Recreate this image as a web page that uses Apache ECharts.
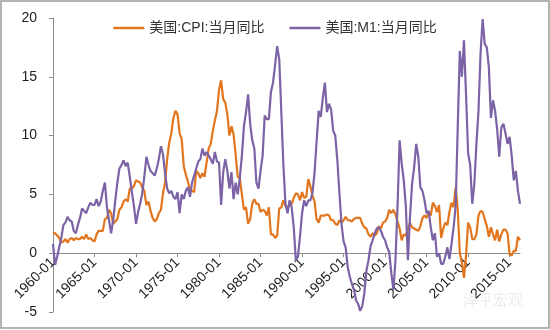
<!DOCTYPE html>
<html>
<head>
<meta charset="utf-8">
<script src="https://cdn.jsdelivr.net/npm/echarts@6/dist/echarts.min.js"></script>
<style>
html,body{margin:0;padding:0;background:#fff;}
#chart{width:550px;height:330px;}
</style>
</head>
<body>
<div id="chart"></div>
<script>
// Quarterly observations, 1960-01 .. 2016-04 (Jan, Apr, Jul, Oct)
const years = [];
for (let y = 1960; y <= 2016; y++) years.push(y);
const months = ['01', '04', '07', '10'];
const categories = [];
years.forEach(y => months.forEach(m => { if (!(y === 2016 && (m === '07' || m === '10'))) categories.push(y + '-' + m); }));

const seriesNames = ['美国:CPI:当月同比', '美国:M1:当月同比'];

// US CPI YoY (%)
const cpi = [
  1.7, 1.7, 1.5, 1.3,
  0.9, 1.0, 1.2, 0.9,
  1.2, 1.3, 1.1, 1.3,
  1.2, 1.2, 1.4, 1.2,
  1.6, 1.2, 1.3, 1.1,
  1.0, 1.6, 1.9, 1.9,
  1.9, 2.9, 3.0, 3.7,
  3.4, 2.5, 2.7, 2.9,
  3.7, 3.9, 4.4, 4.6,
  4.4, 5.5, 5.5, 5.7,
  6.2, 6.1, 6.0, 5.6,
  5.3, 4.1, 4.4, 3.6,
  3.0, 2.7, 2.9, 3.4,
  3.7, 5.1, 6.0, 8.0,
  9.4, 10.2, 11.5, 12.1,
  11.8, 10.2, 9.7, 7.4,
  6.7, 6.1, 5.4, 5.3,
  5.2, 7.0, 6.8, 6.4,
  6.8, 6.5, 7.7, 8.9,
  9.3, 10.4, 11.3, 12.1,
  13.9, 14.7, 13.1, 12.8,
  11.8, 10.0, 10.8, 10.1,
  8.4, 6.5, 6.4, 5.0,
  3.7, 3.9, 2.5, 2.9,
  4.2, 4.6, 4.2, 4.2,
  3.5, 3.7, 3.6, 3.2,
  3.9, 1.6, 1.6, 1.3,
  1.5, 3.8, 3.9, 4.5,
  4.0, 3.9, 4.1, 4.2,
  4.7, 5.1, 5.0, 4.5,
  5.2, 4.7, 4.8, 6.3,
  5.7, 4.9, 4.4, 2.9,
  2.6, 3.2, 3.2, 3.2,
  3.3, 3.2, 2.8, 2.8,
  2.5, 2.4, 2.8, 2.6,
  2.8, 3.1, 2.8, 2.8,
  2.7, 2.9, 3.0, 3.0,
  3.0, 2.5, 2.2, 2.1,
  1.6, 1.4, 1.7, 1.5,
  1.7, 2.3, 2.1, 2.6,
  2.7, 3.0, 3.7, 3.4,
  3.7, 3.3, 2.7, 2.1,
  1.1, 1.6, 1.5, 2.0,
  2.6, 2.2, 2.1, 2.0,
  1.9, 2.3, 3.0, 3.2,
  3.0, 3.5, 3.2, 4.3,
  4.0, 3.5, 4.1, 1.3,
  2.1, 2.6, 2.4, 3.5,
  4.3, 3.9, 5.6, 3.7,
  0.0, -0.7, -2.1, -0.2,
  2.6, 2.2, 1.2, 1.2,
  1.6, 3.2, 3.6, 3.5,
  2.9, 2.3, 1.4, 2.2,
  1.6, 1.1, 2.0, 1.0,
  1.6, 2.0, 2.0, 1.7,
  -0.1, -0.2, 0.2, 0.2,
  1.4, 1.1
];

// US M1 YoY (%)
const m1 = [
  0.8, -1.0, -0.3, 0.5,
  1.3, 2.4, 2.6, 3.1,
  2.8, 2.7, 1.9, 1.7,
  2.4, 3.0, 3.8, 3.6,
  3.4, 3.9, 4.3, 4.1,
  4.1, 4.6, 4.0, 4.4,
  5.3, 6.0, 3.9, 2.8,
  1.7, 2.8, 4.5, 6.0,
  7.2, 7.5, 7.9, 7.4,
  7.7, 6.5, 5.2, 4.0,
  2.5, 3.5, 4.2, 5.1,
  6.5, 8.2, 7.5, 7.0,
  6.8, 6.6, 7.2, 8.0,
  9.1, 8.4, 6.8, 5.5,
  5.1, 5.3, 4.8, 4.6,
  5.2, 3.4, 5.0, 4.6,
  5.3, 5.6, 4.8, 6.0,
  6.6, 7.2, 7.8, 8.0,
  8.9, 8.3, 8.6, 8.3,
  8.0, 7.6, 8.6, 7.8,
  7.7, 4.1, 6.9, 8.0,
  7.0, 5.5, 6.9, 4.6,
  6.0, 5.0, 6.4, 8.3,
  10.8, 12.0, 13.5, 11.0,
  9.6, 8.9, 6.0, 5.5,
  7.0, 8.3, 11.7, 11.4,
  11.4, 13.7, 14.5, 16.0,
  17.6, 16.5, 12.0, 7.5,
  4.2, 3.4, 4.5, 3.9,
  2.2, -0.6, -0.3, 1.4,
  3.4, 4.5, 4.0, 4.5,
  4.5, 5.1, 6.8, 9.5,
  12.1, 11.6, 13.2, 14.5,
  12.0, 12.7, 12.2, 10.4,
  10.0, 7.9, 5.1, 2.5,
  1.0, 0.5, -1.2, -2.0,
  -2.6, -3.1, -4.0, -4.3,
  -4.9, -4.5, -3.4, -1.5,
  -0.6, 0.6, 1.1, 1.7,
  2.1, 2.2, 1.9, 1.4,
  1.1, 0.5, 0.1, -1.7,
  -3.1, -0.6, 4.0, 9.6,
  7.6, 6.2, 4.0, -0.6,
  3.1, 5.9, 7.3, 9.3,
  8.2, 5.6, 5.3, 4.5,
  3.4, 3.6, 2.2, 1.1,
  1.7, -0.3, 0.0, -0.9,
  -0.9, -0.3, 0.5, -0.5,
  0.8, 2.2, 4.0, 10.7,
  17.2, 15.0, 18.1, 13.5,
  8.5, 7.5, 4.2, 5.9,
  9.3, 12.1, 17.0, 19.9,
  17.8, 17.5, 15.8, 11.5,
  13.0, 12.1, 10.5, 8.2,
  10.7, 11.0, 10.2, 9.3,
  9.9, 8.3, 6.2, 7.0,
  5.3, 4.2
];

const yTicks = { min: -5, max: 20, interval: 5 };
const colors = ['#E2761F', '#7B63A6'];
const fontFam = "'Liberation Sans','Noto Sans CJK SC',sans-serif";

const gridTop = 18, gridBottom = 18, chartH = 330;
const plotH = chartH - gridTop - gridBottom;
// distance from bottom of grid to the zero line, in pixels
const zeroOffset = plotH * (0 - yTicks.min) / (yTicks.max - yTicks.min);

const chart = echarts.init(document.getElementById('chart'), null, { renderer: 'canvas' });
chart.setOption({
  animation: false,
  backgroundColor: '#fff',
  color: colors,
  textStyle: { fontFamily: fontFam },
  grid: { left: 53, right: 30, top: gridTop, bottom: gridBottom, containLabel: false, outerBoundsMode: 'none' },
  legend: {
    top: 16, left: 'center',
    icon: 'rect',
    itemWidth: 31, itemHeight: 2.5, itemGap: 25,
    textStyle: { fontSize: 14, color: '#333', fontFamily: fontFam },
    data: seriesNames
  },
  xAxis: {
    type: 'category',
    data: categories,
    boundaryGap: false,
    offset: -zeroOffset,
    axisLine: { onZero: false, lineStyle: { color: '#8c8c8c', width: 1 } },
    axisTick: { show: true, interval: 19, length: 4, lineStyle: { color: '#8c8c8c' } },
    axisLabel: { interval: 19, rotate: 45, fontSize: 14, color: '#222', margin: 7, fontFamily: fontFam },
    splitLine: { show: false }
  },
  yAxis: {
    type: 'value',
    min: yTicks.min, max: yTicks.max, interval: yTicks.interval,
    axisLine: { show: true, lineStyle: { color: '#8c8c8c', width: 1 } },
    axisTick: { show: true, length: 4, lineStyle: { color: '#8c8c8c' } },
    axisLabel: { fontSize: 14, color: '#222', margin: 16, fontFamily: fontFam },
    splitLine: { show: false }
  },
  series: [
    { name: seriesNames[0], type: 'line', data: cpi, symbol: 'none', lineStyle: { width: 2.2, color: colors[0] }, z: 2 },
    { name: seriesNames[1], type: 'line', data: m1, symbol: 'none', lineStyle: { width: 2.2, color: colors[1] }, z: 3 }
  ],
  graphic: [
    { type: 'rect', shape: { x: 1, y: 1, width: 548, height: 327 }, style: { fill: 'none', stroke: '#9a9a9a', lineWidth: 1.5 }, silent: true, z: 100 },
    { type: 'text', left: 463, top: 292, style: { text: '泽平宏观', fill: '#ececec', fontSize: 15, fontFamily: "'Noto Sans CJK SC',sans-serif" }, silent: true, z: 0 }
  ]
});
</script>
</body>
</html>
